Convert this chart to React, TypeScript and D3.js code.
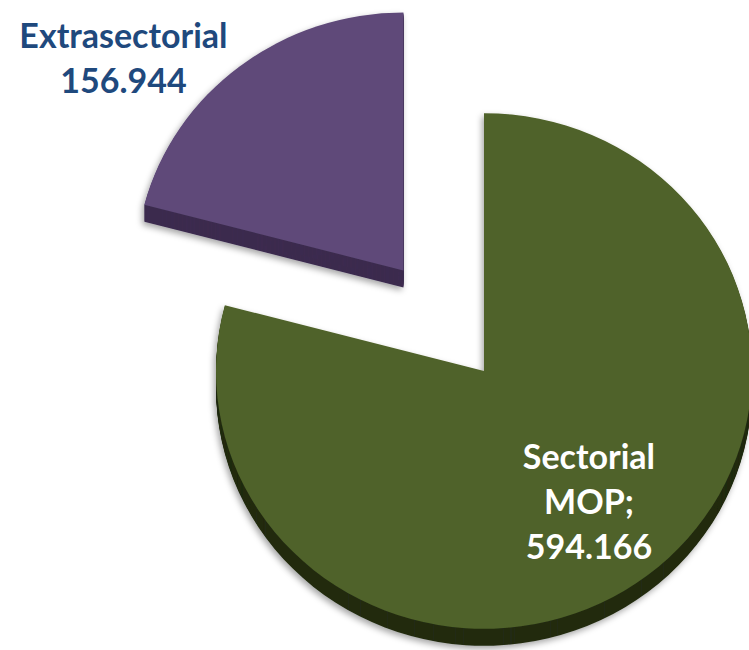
import React from "react";
import * as d3 from "d3";

const categories = ["Sectorial MOP", "Extrasectorial"];
const values = [594.166, 156.944];
const labelLines = [["Sectorial", "MOP;", "594.166"], ["Extrasectorial", "156.944"]];
const topColors = ["#4F6229", "#5F4A79"];
const sideColors = ["#222B12", "#3C2C4F"];
const labelColors = ["#FFFFFF", "#1F497D"];
const explode = [0, 132];

const W = 749;
const H = 650;
const cx = 484;
const cy = 371;
const R = 268;
const SY = 0.962;
const DEPTH = 17;

export default function App() {
  const pie = d3
    .pie<number>()
    .sort(null)
    .value((d) => d)
    .startAngle(0)
    .endAngle(2 * Math.PI);
  const arcs = pie(values);
  const arcGen = d3.arc<d3.PieArcDatum<number>>().innerRadius(0).outerRadius(R);

  const offsets = arcs.map((a, i) => {
    const mid = (a.startAngle + a.endAngle) / 2;
    return [Math.sin(mid) * explode[i], -Math.cos(mid) * explode[i] * SY];
  });

  // label anchor positions (center of label block)
  const labelPos = arcs.map((a, i) => {
    const mid = (a.startAngle + a.endAngle) / 2;
    if (i === 0) {
      const r = 172;
      return [Math.sin(mid) * r, -Math.cos(mid) * r * SY];
    }
    return [offsets[i][0] - 280, offsets[i][1] - 212];
  });

  const layers = d3.range(DEPTH, 0, -1);
  const lineH = 45;

  return (
    <svg width={W} height={H} style={{ position: "absolute", left: 0, top: 0 }}>
      <defs>
        <filter id="shadow" x="-10%" y="-10%" width="120%" height="120%">
          <feDropShadow dx="-2" dy="3" stdDeviation="3" floodColor="#000" floodOpacity="0.35" />
        </filter>
      </defs>
      <rect width={W} height={H} fill="#fff" />
      <g transform={`translate(${cx},${cy})`}>
        {arcs.map((a, i) => (
          <g key={categories[i]} transform={`translate(${offsets[i][0]},${offsets[i][1]})`}>
            <g filter="url(#shadow)">
              {layers.map((k) => (
                <path
                  key={k}
                  d={arcGen(a) || ""}
                  transform={`translate(0,${k}) scale(1,${SY})`}
                  fill={sideColors[i]}
                />
              ))}
              <path d={arcGen(a) || ""} transform={`scale(1,${SY})`} fill={topColors[i]} />
            </g>
          </g>
        ))}
        {arcs.map((a, i) => {
          const lines = labelLines[i];
          const [lx, ly] = labelPos[i];
          const y0 = ly - ((lines.length - 1) * lineH) / 2;
          return (
            <text
              key={"l" + i}
              textAnchor="middle"
              fontFamily="Lato, 'Open Sans', sans-serif"
              fontWeight="bold"
              fontSize={34}
              fill={labelColors[i]}
            >
              {lines.map((t, j) => (
                <tspan key={j} x={lx} y={y0 + j * lineH} dy="0.35em">
                  {t}
                </tspan>
              ))}
            </text>
          );
        })}
      </g>
    </svg>
  );
}
